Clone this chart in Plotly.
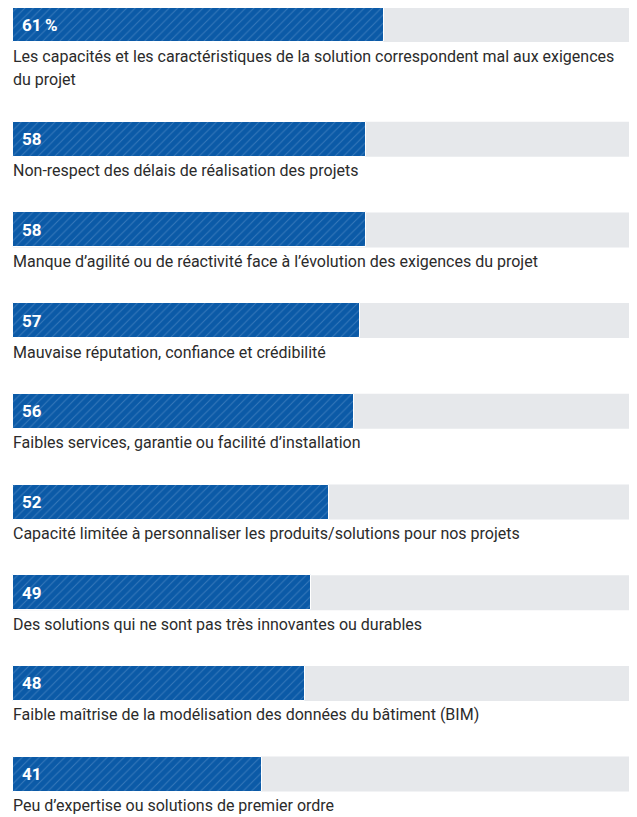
import plotly.graph_objects as go

labels = [
    "Les capacités et les caractéristiques de la solution correspondent mal aux exigences<br>du projet",
    "Non-respect des délais de réalisation des projets",
    "Manque d’agilité ou de réactivité face à l’évolution des exigences du projet",
    "Mauvaise réputation, confiance et crédibilité",
    "Faibles services, garantie ou facilité d’installation",
    "Capacité limitée à personnaliser les produits/solutions pour nos projets",
    "Des solutions qui ne sont pas très innovantes ou durables",
    "Faible maîtrise de la modélisation des données du bâtiment (BIM)",
    "Peu d’expertise ou solutions de premier ordre",
]
values = [61, 58, 58, 57, 56, 52, 49, 48, 41]
value_text = [f"{v}\u2009%" if i == 0 else str(v) for i, v in enumerate(values)]
TRACK_MAX = 102

# page body has an 8px margin; figure is sized to fill the rest of the window
W, H = 629, 809
X0_PX = 5
PX_PER_UNIT = 6.085
BAR_H = 35
STEP = 90.7
EXTRA_LINE = 24.0
LINE_GAP = 23

centers = []
top = -1
for lab in labels:
    centers.append(top + BAR_H / 2)
    top += STEP + EXTRA_LINE * lab.count("<br>")

FONT = "Roboto, Arial, sans-serif"

fig = go.Figure()
fig.add_trace(go.Bar(
    x=values, y=centers, orientation="h", width=BAR_H,
    marker=dict(
        color="#0b5aa7",
        line=dict(color="white", width=1),
        pattern=dict(shape="/", bgcolor="#0b5aa7", fgcolor="#6396cd",
                     size=6, solidity=0.17),
    ),
    hoverinfo="skip",
))

shapes = []
annotations = []
for c, lab, t in zip(centers, labels, value_text):
    shapes.append(dict(type="rect", xref="x", yref="y", x0=0, x1=TRACK_MAX,
                       y0=c - BAR_H / 2, y1=c + BAR_H / 2,
                       fillcolor="#e6e8eb", line=dict(width=0), layer="below"))
    annotations.append(dict(x=0, y=c, xref="x", yref="y", text=f"<b>{t}</b>",
                            xanchor="left", yanchor="middle", xshift=7,
                            showarrow=False,
                            font=dict(family=FONT, size=17, color="white")))
    for k, line in enumerate(lab.split("<br>")):
        annotations.append(dict(x=0, y=c + BAR_H / 2 + 14 + k * LINE_GAP,
                                xref="x", yref="y", text=line,
                                xanchor="left", yanchor="middle",
                                align="left", showarrow=False, xshift=-2,
                                font=dict(family=FONT, size=16, color="#2b2b2b")))

fig.update_layout(
    width=W, height=H,
    margin=dict(l=0, r=0, t=0, b=0),
    paper_bgcolor="white", plot_bgcolor="white",
    showlegend=False,
    xaxis=dict(range=[-X0_PX / PX_PER_UNIT, (W - X0_PX) / PX_PER_UNIT],
               visible=False, fixedrange=True),
    yaxis=dict(range=[H, 0], visible=False, fixedrange=True),
    shapes=shapes,
    annotations=annotations,
    bargap=0,
)

fig.write_html("out.html")
